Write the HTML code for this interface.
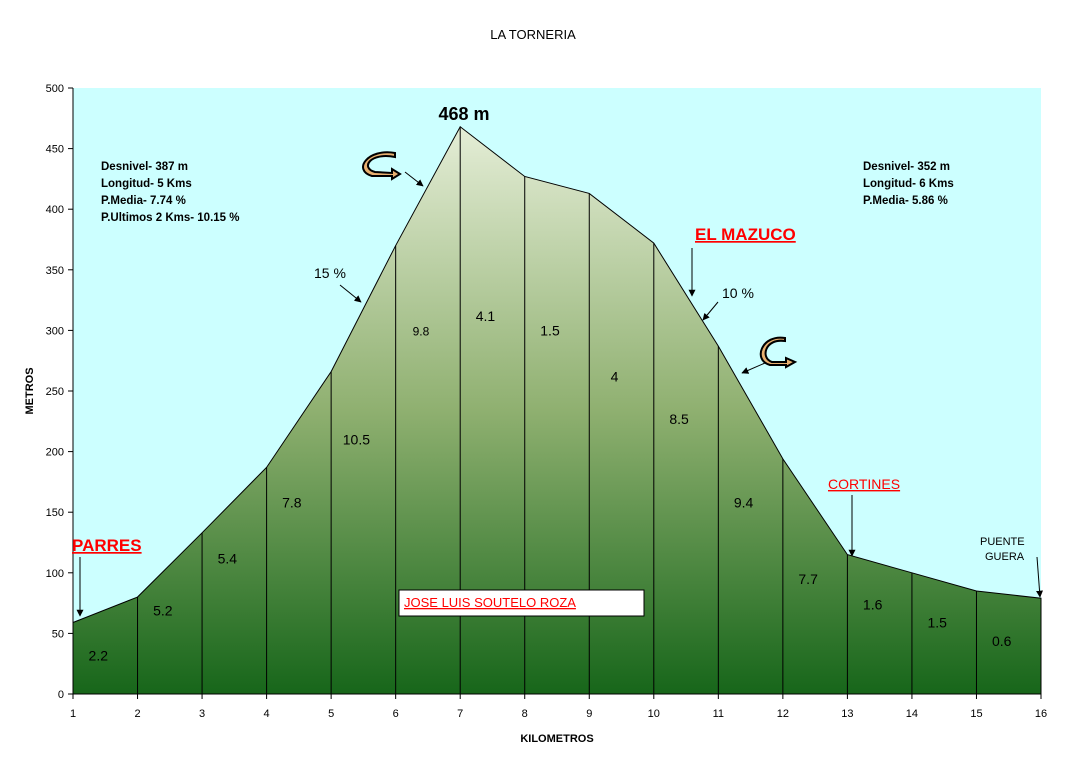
<!DOCTYPE html>
<html><head><meta charset="utf-8"><style>
body{margin:0;background:#fff;}
svg{display:block;font-family:"Liberation Sans",Arial,sans-serif;}
</style></head><body>
<svg id="c" width="1066" height="766" viewBox="0 0 1066 766">
<defs>
<linearGradient id="g" gradientUnits="userSpaceOnUse" x1="0" y1="127" x2="0" y2="694">
<stop offset="0" stop-color="#e4edd6"/><stop offset="0.5" stop-color="#8fb070"/><stop offset="1" stop-color="#17661a"/>
</linearGradient>
<marker id="ah" viewBox="0 0 10 10" refX="9" refY="5" markerWidth="7" markerHeight="7" orient="auto"><path d="M0,0L10,5L0,10z" fill="#000"/></marker>
</defs>
<rect x="73" y="88" width="968" height="606" fill="#ccffff"/>
<text x="533" y="39" font-size="13" text-anchor="middle">LA TORNERIA</text>
<g id="area"></g>
<g id="axes"></g>
<g id="ann">
<text x="101" y="170" font-size="11.5" font-weight="bold"><tspan x="101">Desnivel- 387 m</tspan><tspan x="101" dy="17">Longitud- 5 Kms</tspan><tspan x="101" dy="17">P.Media- 7.74 %</tspan><tspan x="101" dy="17">P.Ultimos 2 Kms- 10.15 %</tspan></text>
<text x="863" y="170" font-size="11.5" font-weight="bold"><tspan x="863">Desnivel- 352 m</tspan><tspan x="863" dy="17">Longitud- 6 Kms</tspan><tspan x="863" dy="17">P.Media- 5.86 %</tspan></text>
<text x="464" y="120" font-size="18" font-weight="bold" text-anchor="middle">468 m</text>
<text x="72" y="551" font-size="17" font-weight="bold" fill="#ff0000" text-decoration="underline">PARRES</text>
<line x1="80" y1="557" x2="80" y2="616" stroke="#000" marker-end="url(#ah)"/>
<text x="695" y="240" font-size="17" font-weight="bold" fill="#ff0000" text-decoration="underline">EL MAZUCO</text>
<line x1="692" y1="248" x2="692" y2="296" stroke="#000" marker-end="url(#ah)"/>
<text x="828" y="489" font-size="14" fill="#ff0000" text-decoration="underline">CORTINES</text>
<line x1="852" y1="495" x2="852" y2="556" stroke="#000" marker-end="url(#ah)"/>
<text x="980" y="545" font-size="11"><tspan x="980">PUENTE</tspan><tspan x="985" dy="15">GUERA</tspan></text>
<line x1="1037" y1="557" x2="1040" y2="597" stroke="#000" marker-end="url(#ah)"/>
<text x="314" y="278" font-size="14">15 %</text>
<line x1="340" y1="285" x2="361" y2="302" stroke="#000" marker-end="url(#ah)"/>
<text x="722" y="298" font-size="14">10 %</text>
<line x1="718" y1="302" x2="703" y2="320" stroke="#000" marker-end="url(#ah)"/>
<line x1="405" y1="172" x2="423" y2="186" stroke="#000" marker-end="url(#ah)"/>
<line x1="765" y1="363" x2="742" y2="373" stroke="#000" marker-end="url(#ah)"/>
<path d="M395,157 C370,152 360,168 375,172 L392,173 L392,169 L400,174 L392,179 L392,176 L372,176 C352,170 368,148 395,153 Z" fill="#e8b070" stroke="#000" stroke-width="2"/>
<path d="M785,341 C765,338 760,358 772,362 L786,362 L786,358 L795,362 L786,367 L786,365 L770,365 C752,360 762,334 785,338 Z" fill="#e8b070" stroke="#000" stroke-width="2"/>
<rect x="399" y="590" width="245" height="26" fill="#fff" stroke="#000"/>
<text x="404" y="607" font-size="13" fill="#ff0000" text-decoration="underline">JOSE LUIS SOUTELO ROZA</text>
</g>
<text x="557" y="742" font-size="11" font-weight="bold" text-anchor="middle">KILOMETROS</text>
<text x="33" y="391" font-size="11" font-weight="bold" text-anchor="middle" transform="rotate(-90 33 391)">METROS</text>
</svg>
<script>
const kms=[1,2,3,4,5,6,7,8,9,10,11,12,13,14,15,16];
const alts=[59,80,133,187,266,370,468,427,413,372,287,194,115,100,85,79];
const grades=["2.2","5.2","5.4","7.8","10.5","9.8","4.1","1.5","4","8.5","9.4","7.7","1.6","1.5","0.6"];
const gradeY=[36,73,116,162,214,304,316,304,266,231,162,99,78,63,48];
const yTicks=[0,50,100,150,200,250,300,350,400,450,500];
const NS="http://www.w3.org/2000/svg";
const X=k=>73+(k-1)*(968/15);
const Y=v=>694-v*606/500;
function mk(t,a,p){const e=document.createElementNS(NS,t);for(const k in a)e.setAttribute(k,a[k]);p.appendChild(e);return e;}
const area=document.getElementById('area'),axes=document.getElementById('axes');
let d="M"+X(kms[0])+","+Y(0);
kms.forEach((k,i)=>{d+=" L"+X(k)+","+Y(alts[i]);});
d+=" L"+X(kms[kms.length-1])+","+Y(0)+"Z";
const poly=mk('path',{d:d,fill:'url(#g)',stroke:'#000','stroke-width':1},area);


kms.forEach((k,i)=>{if(i>0&&i<kms.length-1){const l=mk('line',{x1:X(k),y1:Y(alts[i]),x2:X(k),y2:Y(0),stroke:'#000','stroke-width':1},area);

}});
grades.forEach((g,i)=>{const t=mk('text',{x:(X(kms[i])+X(kms[i+1]))/2-7,y:Y(gradeY[i])+10,'font-size':g==="9.8"?12:14,'text-anchor':'middle'},area);t.textContent=g;

});
mk('line',{x1:73,y1:88,x2:73,y2:694,stroke:'#000'},axes);
mk('line',{x1:73,y1:694,x2:1041,y2:694,stroke:'#000'},axes);
yTicks.forEach(v=>{mk('line',{x1:68,y1:Y(v),x2:73,y2:Y(v),stroke:'#000'},axes);
const t=mk('text',{x:64,y:Y(v)+4,'font-size':11,'text-anchor':'end'},axes);t.textContent=v;

});
kms.forEach(k=>{mk('line',{x1:X(k),y1:694,x2:X(k),y2:699,stroke:'#000'},axes);
const t=mk('text',{x:X(k),y:717,'font-size':11,'text-anchor':'middle'},axes);t.textContent=k;

});
</script>
</body></html>
